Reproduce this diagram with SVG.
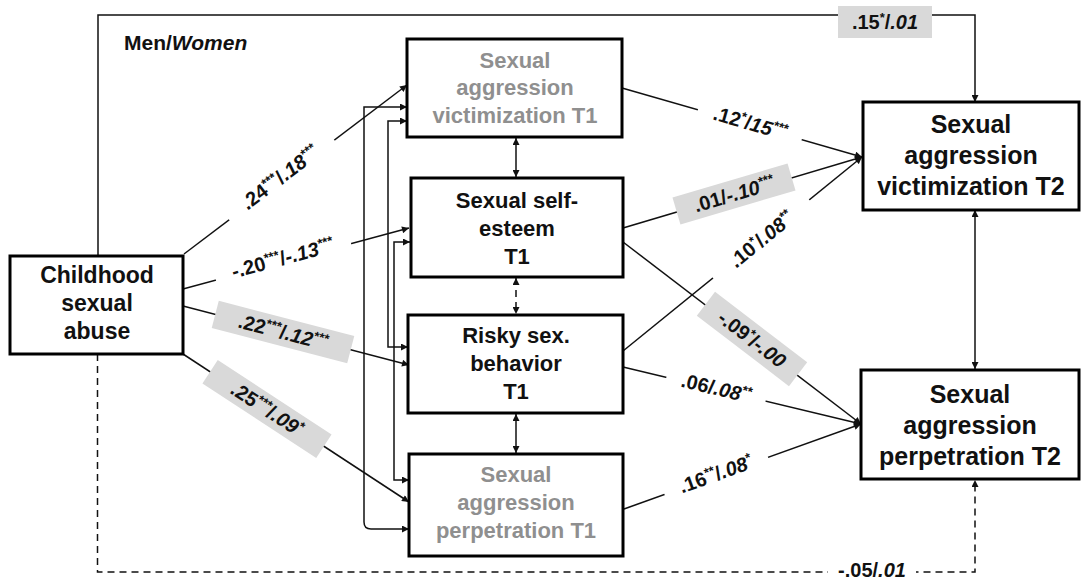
<svg xmlns="http://www.w3.org/2000/svg" width="1084" height="582" viewBox="0 0 1084 582">
<style>
.node rect{fill:#fff;stroke:#000;stroke-width:3}
.nt{font-family:"Liberation Sans",Arial,sans-serif;font-weight:bold;text-anchor:middle;fill:#111}
.gray{fill:#8f8f8f}
.lbl{font-family:"Liberation Sans",Arial,sans-serif;font-weight:bold;font-size:20px;text-anchor:middle;fill:#111}
.w{font-style:italic}
.s{font-size:13px}
.conn path{fill:none;stroke:#111;stroke-width:1.5}
.dash{stroke-dasharray:7 5}
.gbg{fill:#d9d9d9}
.wbg{fill:#fff}
</style>
<defs>
<marker id="ah" viewBox="0 0 10 10" refX="10" refY="5" markerWidth="8" markerHeight="7" markerUnits="userSpaceOnUse" orient="auto-start-reverse">
<path d="M0,0 L10,5 L0,10 z" fill="#111"/>
</marker>
</defs>
<rect width="1084" height="582" fill="#fff"/>

<g id="connectors" class="conn">
<path d="M98,255 V15 H975 V102" marker-end="url(#ah)"/>
<path class="dash" d="M97.5,354 V572 H975 V480" marker-end="url(#ah)"/>
<path d="M184,254 L407,85" marker-end="url(#ah)"/>
<path d="M183,289 L409,228" marker-end="url(#ah)"/>
<path d="M183,306 L409,365" marker-end="url(#ah)"/>
<path d="M183,354 L409,502" marker-end="url(#ah)"/>
<path d="M407,107 H364 V522 Q364,529 371,529 H409" marker-start="url(#ah)" marker-end="url(#ah)"/>
<path d="M407,121 H388 V347 H408" marker-start="url(#ah)" marker-end="url(#ah)"/>
<path d="M410,242 H394 V480 H409" marker-start="url(#ah)" marker-end="url(#ah)"/>
<path d="M516,138 V177" marker-start="url(#ah)" marker-end="url(#ah)"/>
<path class="dash" d="M516,278 V314" marker-start="url(#ah)" marker-end="url(#ah)"/>
<path d="M516,414 V453" marker-start="url(#ah)" marker-end="url(#ah)"/>
<path d="M975,210 V369" marker-start="url(#ah)" marker-end="url(#ah)"/>
<path d="M622,88 L862,157" marker-end="url(#ah)"/>
<path d="M623,228 L862,157" marker-end="url(#ah)"/>
<path d="M623,351 L862,157" marker-end="url(#ah)"/>
<path d="M623,242 L861,424" marker-end="url(#ah)"/>
<path d="M623,367 L861,424" marker-end="url(#ah)"/>
<path d="M624,509 L861,424" marker-end="url(#ah)"/>
</g>

<g id="labels">
<g transform="translate(885,22)"><rect class="gbg" x="-47" y="-16" width="94" height="32"/><text class="lbl" y="7">.15<tspan class="s" dy="-7">*</tspan><tspan dy="7">/</tspan><tspan class="w">.01</tspan></text></g>
<g transform="translate(872,572)"><rect class="wbg" x="-44" y="-9" width="88" height="18"/><text class="lbl" font-size="19" y="5">-.05/<tspan class="w">.01</tspan></text></g>
<g transform="translate(281,179) rotate(-37.2)"><rect class="wbg" x="-66" y="-10" width="132" height="20"/><text class="lbl" y="5">.24<tspan class="s" dy="-7">***</tspan><tspan dy="7">/</tspan><tspan class="w">.18</tspan><tspan class="s w" dy="-7">***</tspan></text></g>
<g transform="translate(283,260) rotate(-15.2)"><rect class="wbg" x="-70" y="-10" width="140" height="20"/><text class="lbl" y="5">-.20<tspan class="s" dy="-7">***</tspan><tspan dy="7">/</tspan><tspan class="w">-.13</tspan><tspan class="s w" dy="-7">***</tspan></text></g>
<g transform="translate(283,332) rotate(14.6)"><rect class="gbg" x="-70" y="-14" width="140" height="28"/><text class="lbl" y="7">.22<tspan class="s" dy="-7">***</tspan><tspan dy="7">/</tspan><tspan class="w">.12</tspan><tspan class="s w" dy="-7">***</tspan></text></g>
<g transform="translate(267,409) rotate(33.2)"><rect class="gbg" x="-68" y="-14" width="136" height="28"/><text class="lbl" y="7">.25<tspan class="s" dy="-7">***</tspan><tspan dy="7">/</tspan><tspan class="w">.09</tspan><tspan class="s w" dy="-7">*</tspan></text></g>
<g transform="translate(750,124) rotate(16)"><rect class="wbg" x="-54" y="-10" width="108" height="20"/><text class="lbl" y="6">.12<tspan class="s" dy="-7">*</tspan><tspan dy="7">/</tspan><tspan class="w">15</tspan><tspan class="s w" dy="-7">***</tspan></text></g>
<g transform="translate(734,194) rotate(-16.5)"><rect class="gbg" x="-60" y="-14" width="120" height="28"/><text class="lbl" y="7">.01/<tspan class="w">-.10</tspan><tspan class="s w" dy="-7">***</tspan></text></g>
<g transform="translate(762,240) rotate(-39)"><rect class="wbg" x="-62" y="-10" width="124" height="20"/><text class="lbl" y="6">.10<tspan class="s" dy="-7">*</tspan><tspan dy="7">/</tspan><tspan class="w">.08</tspan><tspan class="s w" dy="-7">**</tspan></text></g>
<g transform="translate(752,339) rotate(37.4)"><rect class="gbg" x="-58" y="-15" width="116" height="30"/><text class="lbl" y="7">-.09<tspan class="s" dy="-7">*</tspan><tspan dy="7">/</tspan><tspan class="w">-.00</tspan></text></g>
<g transform="translate(716,389) rotate(13.5)"><rect class="wbg" x="-51" y="-10" width="102" height="20"/><text class="lbl" y="6">.06/<tspan class="w">.08</tspan><tspan class="s w" dy="-7">**</tspan></text></g>
<g transform="translate(716,475) rotate(-19.8)"><rect class="wbg" x="-55" y="-10" width="110" height="20"/><text class="lbl" y="6">.16<tspan class="s" dy="-7">**</tspan><tspan dy="7">/</tspan><tspan class="w">.08</tspan><tspan class="s w" dy="-7">*</tspan></text></g>
</g>

<text x="124" y="50" font-family="'Liberation Sans',Arial,sans-serif" font-weight="bold" font-size="21" fill="#111">Men/<tspan font-style="italic">Women</tspan></text>

<g id="csa" class="node">
<rect x="10" y="256" width="173" height="98"/>
<text class="nt" font-size="23" x="97" y="283">Childhood</text>
<text class="nt" font-size="23" x="97" y="311">sexual</text>
<text class="nt" font-size="23" x="97" y="339">abuse</text>
</g>

<g id="sav1" class="node">
<rect x="407" y="39" width="215" height="98"/>
<text class="nt gray" font-size="22" x="515" y="68">Sexual</text>
<text class="nt gray" font-size="22" x="515" y="95">aggression</text>
<text class="nt gray" font-size="22" x="515" y="123">victimization T1</text>
</g>

<g id="sse1" class="node">
<rect x="411" y="178" width="212" height="99"/>
<text class="nt" font-size="22" x="517" y="208">Sexual self-</text>
<text class="nt" font-size="22" x="517" y="236">esteem</text>
<text class="nt" font-size="22" x="517" y="264">T1</text>
</g>

<g id="rsb1" class="node">
<rect x="408" y="315" width="215" height="98"/>
<text class="nt" font-size="22" x="516" y="343">Risky sex.</text>
<text class="nt" font-size="22" x="516" y="371">behavior</text>
<text class="nt" font-size="22" x="516" y="399">T1</text>
</g>

<g id="sap1" class="node">
<rect x="409" y="454" width="214" height="102"/>
<text class="nt gray" font-size="22" x="516" y="482">Sexual</text>
<text class="nt gray" font-size="22" x="516" y="510">aggression</text>
<text class="nt gray" font-size="22" x="516" y="538">perpetration T1</text>
</g>

<g id="sav2" class="node">
<rect x="863" y="102" width="216" height="108"/>
<text class="nt" font-size="25" x="971" y="133">Sexual</text>
<text class="nt" font-size="25" x="971" y="164">aggression</text>
<text class="nt" font-size="25" x="971" y="195">victimization T2</text>
</g>

<g id="sap2" class="node">
<rect x="861" y="370" width="218" height="109"/>
<text class="nt" font-size="25" x="970" y="403">Sexual</text>
<text class="nt" font-size="25" x="970" y="434">aggression</text>
<text class="nt" font-size="25" x="970" y="465">perpetration T2</text>
</g>
</svg>
